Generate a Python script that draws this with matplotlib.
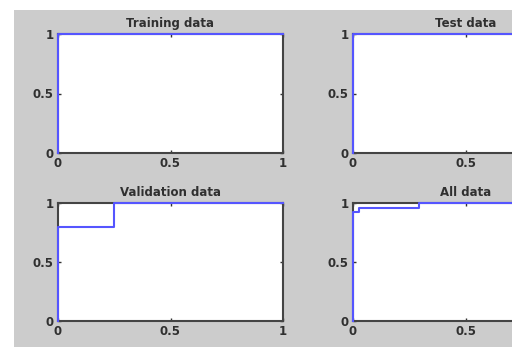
import matplotlib
matplotlib.use("Agg")
import matplotlib.pyplot as plt
from matplotlib.patches import Rectangle

# ROC curves: false positive rate (x) vs true positive rate (y)
titles = ["Training data", "Test data", "Validation data", "All data"]
train_fpr = [0, 0, 1]
train_tpr = [0, 1, 1]
test_fpr = [0, 0, 1]
test_tpr = [0, 1, 1]
val_fpr = [0, 0, 0.25, 0.25, 1]
val_tpr = [0, 0.8, 0.8, 1, 1]
all_fpr = [0, 0, 0.025, 0.025, 0.29, 0.29, 1]
all_tpr = [0, 0.925, 0.925, 0.955, 0.955, 1, 1]
tick_vals = [0, 0.5, 1]
tick_labels = ["0", "0.5", "1"]

curves = [(train_fpr, train_tpr), (test_fpr, test_tpr),
          (val_fpr, val_tpr), (all_fpr, all_tpr)]

W, H = 512, 347
plt.rcParams["font.family"] = ["DejaVu Sans"]
fig = plt.figure(figsize=(W / 100, H / 100), dpi=100, facecolor="white")

# grey window background
fig.patches.append(Rectangle((14 / W, 0), 1 - 14 / W, (H - 10) / H,
                             transform=fig.transFigure, facecolor="#cccccc",
                             edgecolor="none", zorder=-5))

def px_axes(left, top, right, bottom):
    return [left / W, (H - bottom) / H, (right - left) / W, (bottom - top) / H]

boxes = [px_axes(58, 34, 283, 153), px_axes(353, 34, 579, 153),
         px_axes(58, 203, 283, 321), px_axes(353, 203, 579, 321)]

text_col = "#303030"
for i, (box, title, (fx, fy)) in enumerate(zip(boxes, titles, curves)):
    ax = fig.add_axes(box)
    ax.set_zorder(2)
    ax.set_facecolor("white")
    ax.plot(fx, fy, color="#5555ff", lw=1.5, zorder=5, clip_on=False)
    ax.set_xlim(0, 1)
    ax.set_ylim(0, 1)
    ax.set_xticks(tick_vals)
    # right column runs past the window edge, so its last x label is not shown
    ax.set_xticklabels(tick_labels if i % 2 == 0 else tick_labels[:2] + [""])
    ax.set_yticks(tick_vals)
    ax.set_yticklabels(tick_labels)
    ax.tick_params(direction="in", length=2.5, width=1, color="#333333",
                   top=True, right=True, labelsize=8.5, labelcolor=text_col,
                   pad=3)
    for lab in ax.get_xticklabels() + ax.get_yticklabels():
        lab.set_fontweight("bold")
    for s in ax.spines.values():
        s.set_color("#444444")
        s.set_linewidth(1.5)
    ax.set_title(title, fontsize=8.5, color=text_col, pad=5, fontweight="bold")

fig.savefig("out.png", dpi=100, facecolor="white")
